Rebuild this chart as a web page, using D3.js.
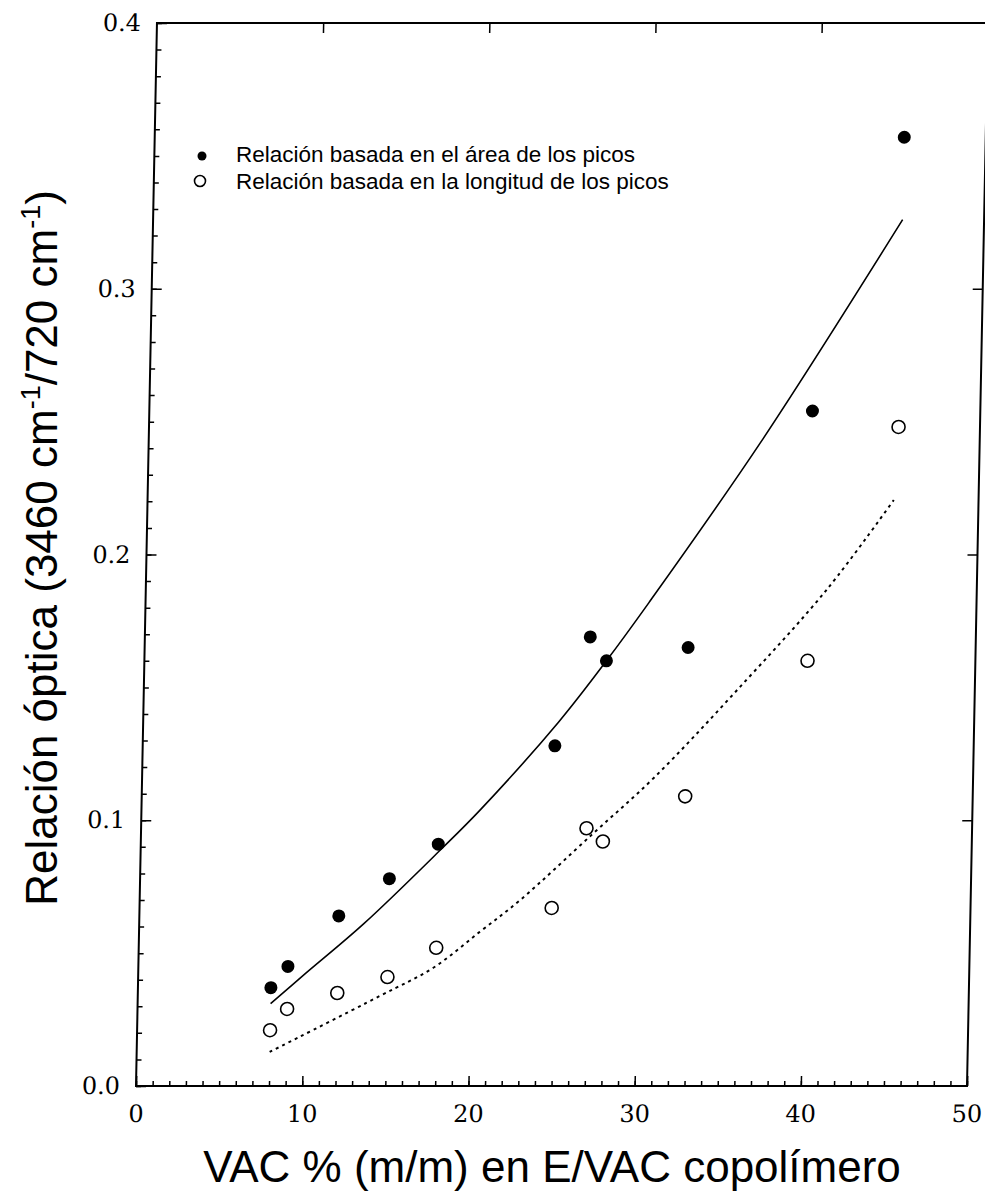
<!DOCTYPE html>
<html>
<head>
<meta charset="utf-8">
<script src="https://cdn.jsdelivr.net/npm/d3@7"></script>
<style>
  body { margin: 0; background: #fff; }
  svg { display: block; }
  .tick text { font-family: "DejaVu Serif", serif; font-size: 24px; fill: #000; }
  .tick line { stroke: #000; stroke-width: 1.5; }
</style>
</head>
<body>
<div id="chart"></div>
<script>
// VAC % del copolímero y las dos relaciones ópticas medidas
const vacPct      = [8, 9, 12, 15, 17.9, 24.8, 26.8, 27.8, 32.7, 39.9, 45.1];
const areaRatio   = [0.037, 0.045, 0.064, 0.078, 0.091, 0.128, 0.169, 0.160, 0.165, 0.254, 0.357];
const lengthRatio = [0.021, 0.029, 0.035, 0.041, 0.052, 0.067, 0.097, 0.092, 0.109, 0.160, 0.248];

// curvas de ajuste
const areaFitX   = [8, 10, 13.5, 18, 20.4, 25, 27.8, 30.3, 36.8, 45.1];
const areaFitY   = [0.031, 0.042, 0.061, 0.0886, 0.104, 0.137, 0.160, 0.182, 0.242, 0.326];
const lengthFitX = [8, 14.6, 17.75, 20.5, 22.9, 27.2, 30.8, 35.7, 41, 44.9];
const lengthFitY = [0.0128, 0.034, 0.0445, 0.058, 0.070, 0.095, 0.116, 0.149, 0.187, 0.2205];

const xTicks = [0, 10, 20, 30, 40, 50];
const yTicks = [0.0, 0.1, 0.2, 0.3, 0.4];
const legendLabels = [
  "Relación basada en el área de los picos",
  "Relación basada en la longitud de los picos"
];

const W = 985, H = 1193;
const mLeft = 136, mRight = 967, mTop = 23, mBottom = 1086;

const svg = d3.select("#chart").append("svg")
  .attr("width", W).attr("height", H);

// la figura original está escaneada ligeramente inclinada
const g = svg.append("g")
  .attr("transform", `translate(0,${mBottom}) skewX(-1.13) translate(0,${-mBottom})`);

const x = d3.scaleLinear().domain([0, 50]).range([mLeft, mRight]);
const y = d3.scaleLinear().domain([0, 0.4]).range([mBottom, mTop]);

// ejes: ticks menores y mayores hacia dentro
g.append("g").attr("transform", `translate(0,${mBottom})`)
  .call(d3.axisBottom(x).tickValues(d3.range(0, 51, 1)).tickSize(-5).tickFormat(""))
  .call(a => a.select(".domain").remove());
g.append("g").attr("transform", `translate(0,${mBottom})`)
  .call(d3.axisBottom(x).tickValues(xTicks).tickSize(-10).tickPadding(19).tickFormat(d3.format("d")))
  .call(a => a.select(".domain").remove());

g.append("g").attr("transform", `translate(${mLeft},0)`)
  .call(d3.axisLeft(y).tickValues(d3.range(0, 41, 1).map(d => d / 100)).tickSize(-5).tickFormat(""))
  .call(a => a.select(".domain").remove());
g.append("g").attr("transform", `translate(${mLeft},0)`)
  .call(d3.axisLeft(y).tickValues(yTicks).tickSize(-10).tickPadding(16).tickFormat(d3.format(".1f")))
  .call(a => a.select(".domain").remove());

g.append("g").attr("transform", `translate(0,${mTop})`)
  .call(d3.axisTop(x).tickValues(xTicks.slice(1, -1)).tickSize(-10).tickFormat(""))
  .call(a => a.select(".domain").remove());
g.append("g").attr("transform", `translate(${mRight},0)`)
  .call(d3.axisRight(y).tickValues(yTicks.slice(1, -1)).tickSize(-10).tickFormat(""))
  .call(a => a.select(".domain").remove());

g.append("rect")
  .attr("x", mLeft).attr("y", mTop)
  .attr("width", mRight - mLeft).attr("height", mBottom - mTop)
  .attr("fill", "none").attr("stroke", "#000").attr("stroke-width", 2);

// curvas de ajuste
const line = d3.line().x(d => x(d[0])).y(d => y(d[1])).curve(d3.curveCatmullRom);

g.append("path")
  .datum(d3.zip(areaFitX, areaFitY))
  .attr("d", line)
  .attr("fill", "none").attr("stroke", "#000").attr("stroke-width", 1.6);

g.append("path")
  .datum(d3.zip(lengthFitX, lengthFitY))
  .attr("d", line)
  .attr("fill", "none").attr("stroke", "#000").attr("stroke-width", 2)
  .attr("stroke-dasharray", "3,4");

// puntos
g.append("g").selectAll("circle")
  .data(d3.zip(vacPct, areaRatio))
  .join("circle")
  .attr("cx", d => x(d[0])).attr("cy", d => y(d[1]))
  .attr("r", 6.5).attr("fill", "#000");

g.append("g").selectAll("circle")
  .data(d3.zip(vacPct, lengthRatio))
  .join("circle")
  .attr("cx", d => x(d[0])).attr("cy", d => y(d[1]))
  .attr("r", 6.5).attr("fill", "#fff").attr("stroke", "#000").attr("stroke-width", 1.6);

// leyenda (fuera del grupo inclinado)
const leg = svg.append("g").attr("font-family", "Liberation Sans, Arial, sans-serif")
  .attr("font-size", 22.5).attr("fill", "#000");
leg.append("circle").attr("cx", 202).attr("cy", 156).attr("r", 4.5).attr("fill", "#000");
leg.append("circle").attr("cx", 200).attr("cy", 181).attr("r", 5.5)
  .attr("fill", "none").attr("stroke", "#000").attr("stroke-width", 1.6);
leg.selectAll("text").data(legendLabels).join("text")
  .attr("x", 236).attr("y", (d, i) => 162 + i * 27)
  .text(d => d);

// títulos de ejes
svg.append("text")
  .attr("x", 552).attr("y", 1182)
  .attr("text-anchor", "middle")
  .attr("font-family", "Liberation Sans, Arial, sans-serif").attr("font-size", 44)
  .attr("fill", "#000")
  .text("VAC % (m/m) en E/VAC copolímero");

const yt = svg.append("text")
  .attr("transform", "translate(57,548) rotate(-90)")
  .attr("text-anchor", "middle")
  .attr("font-family", "Liberation Sans, Arial, sans-serif").attr("font-size", 44)
  .attr("fill", "#000");
yt.append("tspan").text("Relación óptica (3460 cm");
yt.append("tspan").attr("dy", -17).attr("font-size", 27).text("-1");
yt.append("tspan").attr("dy", 17).text("/720 cm");
yt.append("tspan").attr("dy", -17).attr("font-size", 27).text("-1");
yt.append("tspan").attr("dy", 17).text(")");
</script>
</body>
</html>
